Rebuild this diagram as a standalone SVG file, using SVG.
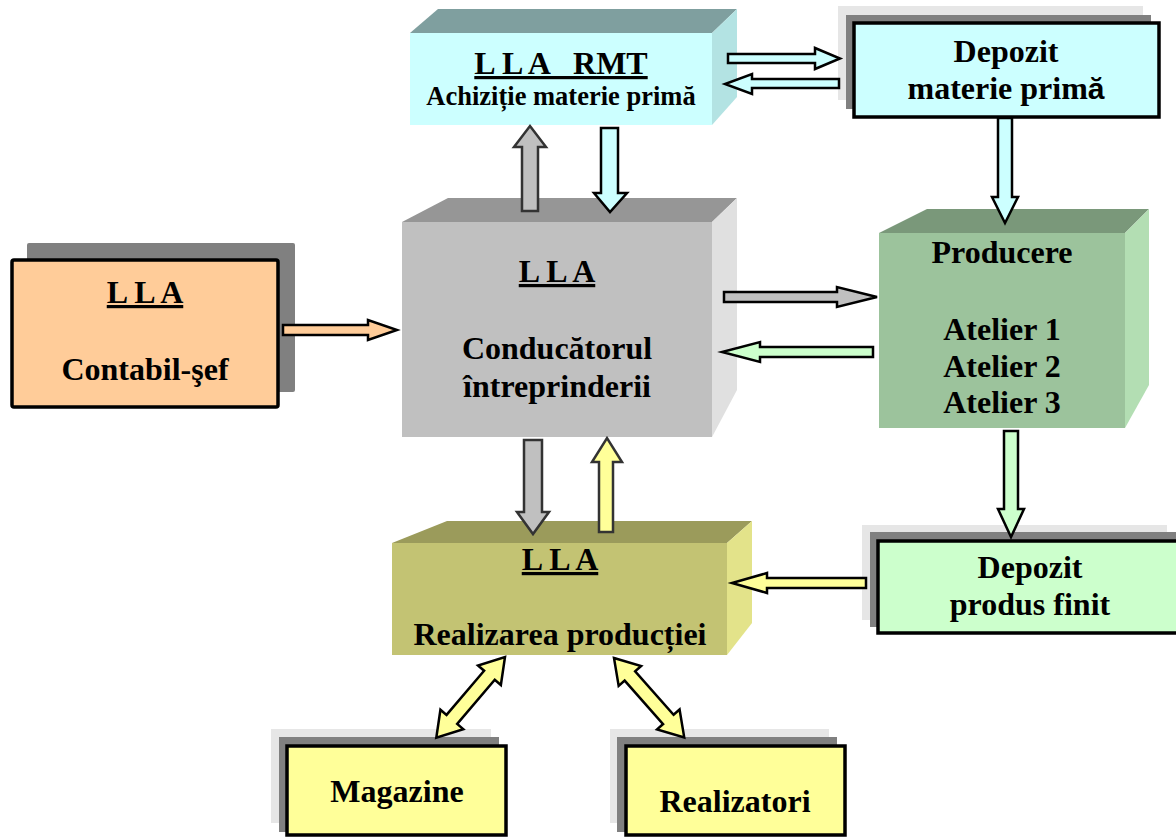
<svg xmlns="http://www.w3.org/2000/svg" width="1176" height="837" viewBox="0 0 1176 837">
<style>
.t{font-family:"Liberation Serif","Times New Roman",serif;font-weight:bold;font-size:32px;fill:#000;text-anchor:middle}
.s{font-size:26.5px}
.u{text-decoration:underline}
.box{stroke:#000;stroke-width:3.5}
.sh1{fill:#e6e6e6}
.sh2{fill:#808080}
.arr{stroke:#000;stroke-width:2.5;stroke-linejoin:miter}
.dk{stroke:#333}
.cy{fill:#ccffff}
.gr{fill:#c0c0c0}
.or{fill:#ffcc99}
.lg{fill:#ccffcc}
.ye{fill:#ffff99}
</style>
<rect width="1176" height="837" fill="#fff"/>

<g id="node-rmt">
<polygon points="410,33 438,9 737,9 712,33" fill="#7f9f9f"/>
<polygon points="712,33 737,9 737,97 712,125" fill="#b3e3e3"/>
<rect x="410" y="33" width="302" height="92" fill="#ccffff"/>
<text class="t u" x="561" y="74" xml:space="preserve">L L A   RMT</text>
<text class="t s" x="561" y="105">Achiziție materie primă</text>
</g>

<g id="node-depozit-mp">
<rect class="sh1" x="838" y="6" width="305" height="94"/>
<rect class="sh2" x="846" y="15" width="305" height="94"/>
<rect class="box" x="854" y="23" width="305" height="94" fill="#ccffff"/>
<text class="t" x="1006" y="62">Depozit</text>
<text class="t" x="1006" y="99">materie prim<tspan font-family="Liberation Sans, Arial, sans-serif" font-size="30">ă</tspan></text>
</g>

<g id="node-contabil">
<rect class="sh2" x="27" y="243" width="268" height="149" rx="2"/>
<rect class="box" x="12" y="260" width="266" height="147" rx="2" fill="#ffcc99"/>
<text class="t u" x="145" y="303">L L A</text>
<text class="t" x="145" y="380">Contabil-şef</text>
</g>

<g id="node-conducator">
<polygon points="402,222 448,198 737,198 712,222" fill="#969696"/>
<polygon points="712,222 737,198 737,390 712,437" fill="#e0e0e0"/>
<rect x="402" y="222" width="310" height="215" fill="#c0c0c0"/>
<text class="t u" x="557" y="282">L L A</text>
<text class="t" x="557" y="359">Conducătorul</text>
<text class="t" x="557" y="397">întreprinderii</text>
</g>

<g id="node-producere">
<polygon points="879,233 927,209 1149,209 1125,233" fill="#7a987a"/>
<polygon points="1125,233 1149,209 1149,385 1125,428" fill="#b3deb3"/>
<rect x="879" y="233" width="246" height="195" fill="#9cc39c"/>
<text class="t" x="1002" y="263">Producere</text>
<text class="t" x="1002" y="340">Atelier 1</text>
<text class="t" x="1002" y="377">Atelier 2</text>
<text class="t" x="1002" y="413">Atelier 3</text>
</g>

<g id="node-depozit-pf">
<rect class="sh1" x="862" y="525" width="305" height="95"/>
<rect class="sh2" x="870" y="532" width="310" height="95"/>
<rect class="box" x="878" y="541" width="304" height="92" fill="#ccffcc"/>
<text class="t" x="1030" y="578">Depozit</text>
<text class="t" x="1030" y="615">produs finit</text>
</g>

<g id="node-realizarea">
<polygon points="392,543 447,521 752,521 727,543" fill="#9b9b5b"/>
<polygon points="727,543 752,521 752,623 727,655" fill="#e3e38a"/>
<rect x="392" y="543" width="335" height="112" fill="#c3c373"/>
<text class="t u" x="560" y="570">L L A</text>
<text class="t" x="560" y="645">Realizarea producției</text>
</g>

<g id="node-magazine">
<rect class="sh1" x="271" y="729" width="220" height="94"/>
<rect class="sh2" x="279" y="737" width="220" height="95"/>
<rect class="box" x="287" y="746" width="219" height="89" fill="#ffff99"/>
<text class="t" x="397" y="802">Magazine</text>
</g>

<g id="node-realizatori">
<rect class="sh1" x="610" y="729" width="219" height="94"/>
<rect class="sh2" x="617" y="737" width="220" height="95"/>
<rect class="box" x="626" y="746" width="219" height="89" fill="#ffff99"/>
<text class="t" x="735" y="812">Realizatori</text>
</g>

<g id="connectors">
<polygon class="arr cy" points="728,54 815,54 815,48 840,58.5 815,69 815,63 728,63"/>
<polygon class="arr cy" points="839,79 752,79 752,74 725,84 752,94 752,88 839,88"/>
<polygon class="arr dk gr" points="522,211 522,147 514,147 530,126 546,147 538,147 538,211"/>
<polygon class="arr cy" points="601,128 618,128 618,193 627,193 610,212 594,193 601,193"/>
<polygon class="arr or" points="283,325 368,325 368,320 397,330 368,340 368,335 283,335"/>
<polygon class="arr gr" points="724,292 837,292 837,287 877,297 837,307 837,302 724,302"/>
<polygon class="arr lg" points="873,347 760,347 760,342 722,352 760,362 760,357 873,357"/>
<polygon class="arr cy" points="998,118 1012,118 1012,197 1018,197 1005,223 992,197 998,197"/>
<polygon class="arr lg" points="1004,431 1018,431 1018,509 1024,509 1011,537 998,509 1004,509"/>
<polygon class="arr ye" points="866,578 767,578 767,573 732,583 767,593 767,588 866,588"/>
<polygon class="arr dk gr" points="524,440 542,440 542,512 549,512 533,534 517,512 524,512"/>
<polygon class="arr dk ye" points="599,532 599,462 592,462 607,438 622,462 613,462 613,532"/>
<path class="arr ye" transform="translate(505,657) rotate(130.4)" d="M0,0 L24,-15 L24,-7 L82,-7 L82,-15 L106,0 L82,15 L82,7 L24,7 L24,15 Z"/>
<path class="arr ye" transform="translate(614,658) rotate(48.5)" d="M0,0 L24,-15 L24,-7 L82,-7 L82,-15 L106,0 L82,15 L82,7 L24,7 L24,15 Z"/>
</g>
</svg>
